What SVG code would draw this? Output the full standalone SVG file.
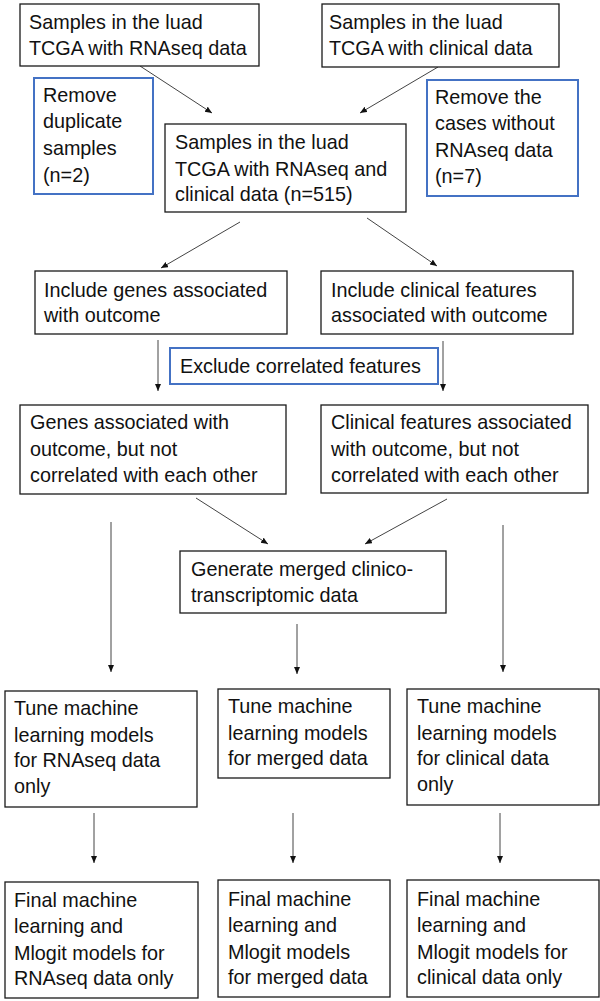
<svg xmlns="http://www.w3.org/2000/svg" width="600" height="1001" viewBox="0 0 600 1001">
<style>
.box{fill:#fff;stroke:#1a1a1a;stroke-width:1.3}
.blue{fill:#fff;stroke:#4472c4;stroke-width:2}
text{font-family:"Liberation Sans",Arial,sans-serif;font-size:19.8px;fill:#111}
.ar{stroke:#444;stroke-width:1;fill:none;marker-end:url(#ah)}
</style>
<defs>
<marker id="ah" markerUnits="userSpaceOnUse" markerWidth="8" markerHeight="7" refX="7" refY="3" orient="auto">
<path d="M0,0 L7,3 L0,6 z" fill="#111"/>
</marker>
</defs>
<rect width="600" height="1001" fill="#fff"/>
<g id="connectors">
<line class="ar" x1="140" y1="66" x2="212" y2="113"/>
<line class="ar" x1="438" y1="67" x2="360" y2="113"/>
<line class="ar" x1="240" y1="222" x2="161" y2="268"/>
<line class="ar" x1="367" y1="218" x2="437" y2="266"/>
<line class="ar" x1="158" y1="340" x2="158" y2="391"/>
<line class="ar" x1="443" y1="341" x2="443" y2="391"/>
<line class="ar" x1="196" y1="498" x2="268" y2="544"/>
<line class="ar" x1="447" y1="499" x2="365" y2="544"/>
<line class="ar" x1="111" y1="522" x2="111" y2="672"/>
<line class="ar" x1="503" y1="525" x2="503" y2="672"/>
<line class="ar" x1="297" y1="624" x2="297" y2="674"/>
<line class="ar" x1="94" y1="813" x2="94" y2="863"/>
<line class="ar" x1="293" y1="813" x2="293" y2="863"/>
<line class="ar" x1="500" y1="813" x2="500" y2="863"/>
</g>
<g id="n1"><rect class="box" x="20" y="4" width="239" height="62"/>
<text x="29" y="29">Samples in the luad</text><text x="29" y="55">TCGA with RNAseq data</text></g>
<g id="n2"><rect class="box" x="322" y="4" width="237" height="63"/>
<text x="329" y="29">Samples in the luad</text><text x="329" y="55">TCGA with clinical data</text></g>
<g id="b1"><rect class="blue" x="34" y="78" width="119" height="116"/>
<text x="43" y="101.5">Remove</text><text x="43" y="128">duplicate</text><text x="43" y="155">samples</text><text x="43" y="181.5">(n=2)</text></g>
<g id="b2"><rect class="blue" x="427" y="80" width="151" height="116"/>
<text x="435" y="104">Remove the</text><text x="435" y="130">cases without</text><text x="435" y="157">RNAseq data</text><text x="435" y="183">(n=7)</text></g>
<g id="n3"><rect class="box" x="165" y="124" width="241" height="88"/>
<text x="175" y="149">Samples in the luad</text><text x="175" y="176">TCGA with RNAseq and</text><text x="175" y="201">clinical data (n=515)</text></g>
<g id="n4"><rect class="box" x="35" y="271" width="252" height="63"/>
<text x="44" y="297">Include genes associated</text><text x="44" y="322">with outcome</text></g>
<g id="n5"><rect class="box" x="321" y="271" width="252" height="63"/>
<text x="331" y="297">Include clinical features</text><text x="331" y="322">associated with outcome</text></g>
<g id="b3"><rect class="blue" x="170" y="348" width="268" height="36"/>
<text x="180" y="373">Exclude correlated features</text></g>
<g id="n6"><rect class="box" x="20" y="405" width="266" height="89"/>
<text x="30" y="429">Genes associated with</text><text x="30" y="456">outcome, but not</text><text x="30" y="482">correlated with each other</text></g>
<g id="n7"><rect class="box" x="321" y="405" width="267" height="88"/>
<text x="331" y="429">Clinical features associated</text><text x="331" y="456">with outcome, but not</text><text x="331" y="482">correlated with each other</text></g>
<g id="n8"><rect class="box" x="180" y="551" width="266" height="62"/>
<text x="191" y="576">Generate merged clinico-</text><text x="191" y="602">transcriptomic data</text></g>
<g id="n9"><rect class="box" x="5" y="691" width="192" height="116"/>
<text x="14" y="715">Tune machine</text><text x="14" y="742">learning models</text><text x="14" y="767">for RNAseq data</text><text x="14" y="793">only</text></g>
<g id="n10"><rect class="box" x="218" y="689" width="172" height="89"/>
<text x="228" y="713">Tune machine</text><text x="228" y="740">learning models</text><text x="228" y="765">for merged data</text></g>
<g id="n11"><rect class="box" x="407" y="689" width="192" height="116"/>
<text x="417" y="713">Tune machine</text><text x="417" y="740">learning models</text><text x="417" y="765">for clinical data</text><text x="417" y="791">only</text></g>
<g id="n12"><rect class="box" x="5" y="882" width="193" height="116"/>
<text x="14" y="907">Final machine</text><text x="14" y="933">learning and</text><text x="14" y="960">Mlogit models for</text><text x="14" y="985">RNAseq data only</text></g>
<g id="n13"><rect class="box" x="218" y="880" width="172" height="117"/>
<text x="228" y="906">Final machine</text><text x="228" y="932">learning and</text><text x="228" y="959">Mlogit models</text><text x="228" y="984">for merged data</text></g>
<g id="n14"><rect class="box" x="407" y="880" width="192" height="117"/>
<text x="417" y="906">Final machine</text><text x="417" y="932">learning and</text><text x="417" y="959">Mlogit models for</text><text x="417" y="984">clinical data only</text></g>
</svg>
